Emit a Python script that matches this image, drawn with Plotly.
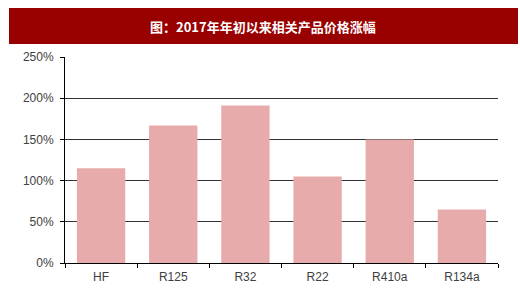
import plotly.graph_objects as go

categories = ["HF", "R125", "R32", "R22", "R410a", "R134a"]
values = [115, 167, 191, 105, 150, 65]
tick_vals = [0, 50, 100, 150, 200, 250]
tick_text = ["0%", "50%", "100%", "150%", "200%", "250%"]
title_text = "图：2017年年初以来相关产品价格涨幅"

W, H = 520, 298
L, R, T, B = 65, 22, 57, 35
pw, ph = W - L - R, H - T - B

def px_x(x):
    return (x - L) / pw

def px_y(y):
    return (H - B - y) / ph

fig = go.Figure()
fig.add_trace(go.Bar(
    x=categories, y=values,
    marker=dict(color="#E8ABAB", line=dict(width=0)),
    hoverinfo="skip",
))

fig.add_shape(type="rect", xref="paper", yref="paper",
              x0=px_x(9), x1=px_x(518), y0=px_y(44), y1=px_y(8),
              fillcolor="#990000", line=dict(width=0), layer="below")
fig.add_annotation(xref="paper", yref="paper", x=px_x(263), y=px_y(26),
                   text="<b>" + title_text + "</b>", showarrow=False,
                   font=dict(family="Noto Sans CJK SC, serif", size=13, color="white"),
                   xanchor="center", yanchor="middle")

fig.update_layout(
    width=W, height=H,
    margin=dict(l=L, r=R, t=T, b=B),
    paper_bgcolor="white", plot_bgcolor="white",
    bargap=0.33, showlegend=False,
    font=dict(family="Liberation Sans, Arial, sans-serif", size=12, color="#404040"),
)
fig.update_xaxes(
    range=[-0.5, 5.5], showline=True, linecolor="black", linewidth=1,
    ticks="outside", ticklen=4, tickcolor="black", tickson="boundaries",
    showgrid=False, tickfont=dict(size=12, color="#404040"),
    ticklabelstandoff=3,
)
fig.update_yaxes(
    range=[0, 250], tickvals=tick_vals, ticktext=tick_text,
    showline=True, linecolor="black", linewidth=1,
    ticks="outside", ticklen=4, tickcolor="black",
    showgrid=True, gridcolor="#333333", gridwidth=1,
    zeroline=False, tickfont=dict(size=12, color="#404040"),
    ticklabelstandoff=4,
)

fig.write_html("out.html")
